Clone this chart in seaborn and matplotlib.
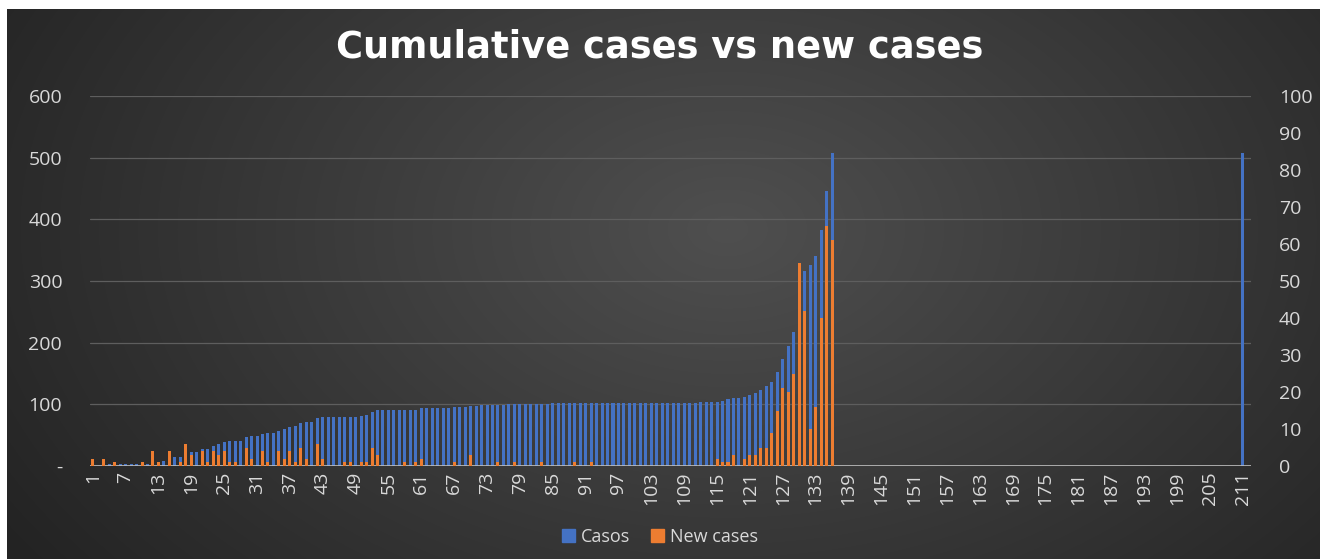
import numpy as np
import pandas as pd
import matplotlib
matplotlib.use("Agg")
import matplotlib.pyplot as plt
import seaborn as sns
from matplotlib.patches import Patch

# cumulative cases (left axis), days 1..136, then a lone bar at day 211
casos = [2, 0, 2, 3, 3, 3, 3, 3, 3, 3, 3, 3, 4, 8, 8, 14, 15, 22, 22, 22,
         27, 28, 33, 35, 39, 40, 40, 40, 47, 49, 49, 52, 53, 53, 56, 60, 63, 65, 70, 71,
         71, 78, 79, 79, 79, 79, 80, 80, 80, 81, 83, 88, 91, 91, 91, 91, 91, 91, 91, 91,
         94, 94, 94, 94, 94, 94, 95, 95, 96, 98, 98, 99, 99, 99, 99, 99, 100, 100, 100, 100,
         100, 100, 100, 100, 102, 102, 102, 102, 102, 102, 102, 102, 102, 102, 102, 102, 102, 102, 102, 102,
         102, 102, 102, 102, 102, 102, 102, 102, 102, 102, 102, 103, 103, 103, 104, 106, 108, 111, 111, 112,
         115, 119, 124, 129, 137, 153, 173, 195, 218, 260, 316, 326, 341, 382, 446, 507]

# new cases per day (right axis), days that are not listed are 0
new_days = [1, 3, 5, 10, 12, 13, 15, 17, 18, 19, 21, 22, 23, 24, 25, 26, 27, 29, 30, 32,
            33, 35, 36, 37, 38, 39, 40, 42, 43, 47, 48, 50, 51, 52, 53, 58, 60, 61, 67, 70,
            75, 78, 83, 89, 92, 115, 116, 117, 118, 120, 121, 122, 123, 124, 125, 126, 127, 128, 129, 130,
            131, 132, 133, 134, 135, 136]
new_vals = [2, 2, 1, 1, 4, 1, 4, 1, 6, 3, 4, 1, 4, 3, 4, 1, 1, 5, 2, 4,
            1, 4, 2, 4, 1, 5, 2, 6, 2, 1, 1, 1, 1, 5, 3, 1, 1, 2, 1, 3,
            1, 1, 1, 1, 1, 2, 1, 1, 3, 2, 3, 3, 5, 5, 9, 15, 21, 20, 25, 55,
            42, 10, 16, 40, 65, 61]

extra_day = 211
extra_val = 507
n_days = 212

days = np.arange(1, n_days + 1)
cum = np.zeros(n_days)
cum[:len(casos)] = casos
cum[extra_day - 1] = extra_val
new = np.zeros(n_days)
for d, v in zip(new_days, new_vals):
    new[d - 1] = v

df = pd.DataFrame({"day": days, "Casos": cum, "New cases": new})

blue = "#4472C4"
orange = "#ED7D31"
txt = "#d9d9d9"

sns.set_style("dark")
plt.rcParams["font.family"] = ["Open Sans", "DejaVu Sans"]

fig = plt.figure(figsize=(13.2, 5.59), dpi=100)
fig.patch.set_facecolor("white")

# dark radial background
bg = fig.add_axes([7 / 1320, 0, 1 - 7 / 1320, 1 - 9 / 559], zorder=-10)
yy, xx = np.mgrid[0:550, 0:1313]
r = np.sqrt(((xx - 720) / 900.0) ** 2 + ((yy - 220) / 600.0) ** 2)
shade = np.clip(0.31 - 0.18 * r, 0.14, 0.31)
bg.imshow(np.dstack([shade] * 3), aspect="auto", extent=[0, 1, 0, 1])
bg.set_axis_off()

ax = fig.add_axes([90 / 1320, 1 - 466 / 559, (1251 - 90) / 1320, (466 - 96) / 559])
ax.set_facecolor("none")
sns.barplot(data=df, x="day", y="Casos", color=blue, width=0.55, errorbar=None,
            saturation=1, linewidth=0, ax=ax, zorder=2)
ax.set_ylim(0, 600)
ax.set_yticks(range(0, 601, 100))
ax.set_yticklabels(["-"] + [str(v) for v in range(100, 601, 100)])
ax.grid(axis="y", color="#5e5e5e", linewidth=0.9, zorder=0)
ax.grid(axis="x", visible=False)
ax.set_xlim(-0.5, n_days - 0.5)
ax.set_xticks(range(0, n_days, 6))
ax.set_xticklabels([str(i + 1) for i in range(0, n_days, 6)], rotation=90)
ax.set_xlabel("")
ax.set_ylabel("")
ax.tick_params(axis="both", colors=txt, labelsize=14, length=0)
ax.tick_params(axis="y", pad=20)
ax.tick_params(axis="x", pad=4)
for s in ax.spines.values():
    s.set_visible(False)
ax.axhline(0, color="#bfbfbf", linewidth=1.2, zorder=5)

ax2 = ax.twinx()
ax2.set_facecolor("none")
sns.barplot(data=df, x="day", y="New cases", color=orange, width=0.55, errorbar=None,
            saturation=1, linewidth=0, ax=ax2, zorder=3)
ax2.set_ylim(0, 100)
ax2.set_yticks(range(0, 101, 10))
ax2.set_ylabel("")
ax2.grid(False)
ax2.tick_params(axis="y", colors=txt, labelsize=14, length=0, pad=20)
for s in ax2.spines.values():
    s.set_visible(False)
ax2.set_xlim(-0.5, n_days - 0.5)

fig.text(0.5, 0.916, "Cumulative cases vs new cases", ha="center", va="center",
         color="white", fontsize=26.5, fontweight="bold", family="DejaVu Sans")

handles = [Patch(color=blue, label="Casos"), Patch(color=orange, label="New cases")]
fig.legend(handles=handles, loc="center", bbox_to_anchor=(0.5, 0.04), ncol=2,
           frameon=False, fontsize=13, labelcolor=txt, handlelength=0.7,
           handleheight=0.7, handletextpad=0.3, columnspacing=1.2)

fig.savefig("out.png", dpi=100)
